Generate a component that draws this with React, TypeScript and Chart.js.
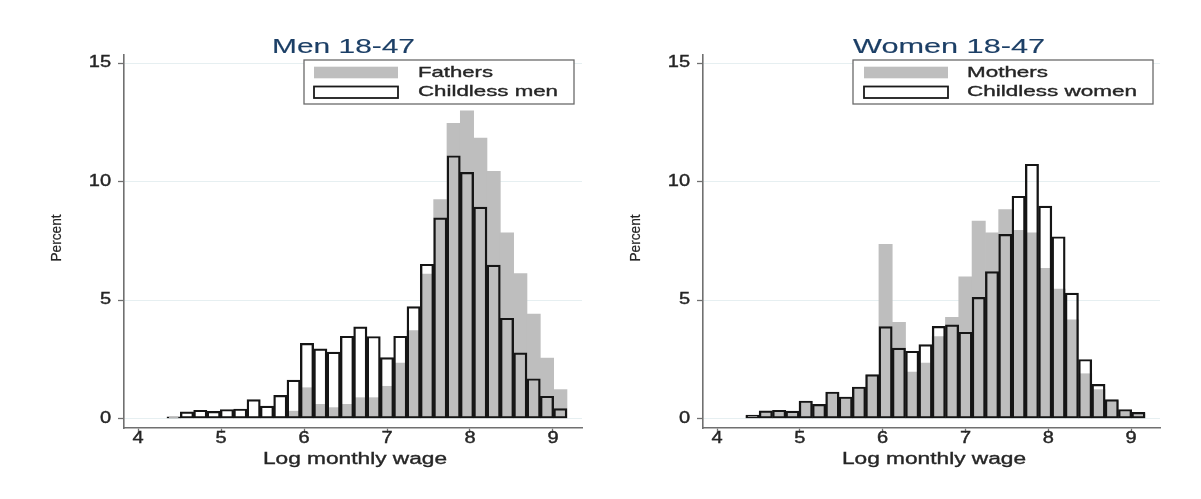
import React, { useEffect, useRef } from "react";
import { Chart, registerables } from "chart.js";

Chart.register(...registerables);

// ---- data ----
const binCenters = [
  4.4284, 4.5891, 4.7498, 4.9105, 5.0712, 5.2319, 5.3926, 5.5533, 5.714, 5.8747,
  6.0354, 6.1961, 6.3568, 6.5175, 6.6782, 6.8389, 6.9996, 7.1603, 7.321, 7.4817,
  7.6424, 7.8031, 7.9638, 8.1245, 8.2852, 8.4459, 8.6066, 8.7673, 8.928, 9.0887,
];
const fathers = [
  0.02, 0.03, 0.03, 0.03, 0.04, 0.04, 0.05, 0.05, 0.08, 0.31,
  1.3, 0.6, 0.46, 0.6, 0.88, 0.88, 1.36, 2.34, 3.71, 6.09,
  9.24, 12.46, 12.98, 11.83, 10.43, 7.84, 6.12, 4.41, 2.55, 1.22,
];
const childlessMen = [
  0.07, 0.28, 0.35, 0.3, 0.38, 0.4, 0.8, 0.52, 0.98, 1.62,
  3.17, 2.94, 2.8, 3.47, 3.87, 3.46, 2.57, 3.47, 4.72, 6.51,
  8.47, 11.09, 10.39, 8.92, 6.47, 4.23, 2.77, 1.68, 0.94, 0.42,
];
const mothers = [
  0.12, 0.28, 0.33, 0.3, 0.72, 0.6, 1.1, 0.9, 1.3, 1.83,
  7.35, 4.06, 1.96, 2.34, 3.46, 4.27, 5.98, 8.33, 7.84, 8.82,
  7.94, 7.84, 6.34, 5.46, 4.16, 1.89, 1.22, 0.75, 0.3, 0.2,
];
const childlessWomen = [
  0.14, 0.32, 0.35, 0.31, 0.74, 0.6, 1.12, 0.91, 1.33, 1.85,
  3.88, 2.97, 2.84, 3.12, 3.89, 3.95, 3.64, 5.11, 6.2, 7.77,
  9.38, 10.73, 8.96, 7.67, 5.29, 2.49, 1.44, 0.8, 0.38, 0.26,
];
const xTicks = [4, 5, 6, 7, 8, 9];
const yTicks = [0, 5, 10, 15];
const xTitle = "Log monthly wage";
const yTitle = "Percent";
const titles = ["Men 18-47", "Women 18-47"];
const parentLabels = ["Fathers", "Mothers"];
const childlessLabels = ["Childless men", "Childless women"];

// ---- style / layout ----
const H = 499;
const FONT = '"Liberation Sans", Arial, Helvetica, sans-serif';
const GREY = "#bebebe";
const AXIS = "#707070";
const TEXT = "#262626";
const TITLE = "#1c3f66";

type TextSpec = {
  text: string;
  x: number;
  y: number;
  size: number;
  color: string;
  align: CanvasTextAlign;
  baseline?: CanvasTextBaseline;
  width?: number;
  sx?: number;
  rotate?: number;
  heavy?: number;
};

function drawText(ctx: CanvasRenderingContext2D, t: TextSpec) {
  ctx.save();
  ctx.font = `normal ${t.size}px ${FONT}`;
  ctx.fillStyle = t.color;
  ctx.strokeStyle = t.color;
  ctx.textAlign = t.align;
  ctx.textBaseline = t.baseline || "alphabetic";
  const w = ctx.measureText(t.text).width;
  const sx = t.width ? t.width / w : t.sx || 1;
  ctx.translate(t.x, t.y);
  if (t.rotate) ctx.rotate(t.rotate);
  ctx.scale(sx, 1);
  ctx.fillText(t.text, 0, 0);
  if (t.heavy) {
    ctx.lineWidth = t.heavy;
    ctx.strokeText(t.text, 0, 0);
  }
  ctx.restore();
}

type Panel = {
  canvasLeft: number;
  canvasWidth: number;
  area: { left: number; right: number; top: number; bottom: number };
  title: string;
  titleLeft: number;
  titleWidth: number;
  parentLabel: string;
  childlessLabel: string;
  parent: number[];
  childless: number[];
  legend: { left: number; right: number; top: number; bottom: number; swL: number; swR: number; textL: number; w1: number; w2: number };
  xTitleCenter: number;
  yTitleX: number;
};

const panels: Panel[] = [
  {
    canvasLeft: 0,
    canvasWidth: 600,
    area: { left: 124, right: 582, top: 55, bottom: 428 },
    title: titles[0],
    titleLeft: 272,
    titleWidth: 143,
    parentLabel: parentLabels[0],
    childlessLabel: childlessLabels[0],
    parent: fathers,
    childless: childlessMen,
    legend: { left: 304, right: 574, top: 60, bottom: 104, swL: 314, swR: 398, textL: 418, w1: 75, w2: 140 },
    xTitleCenter: 355,
    yTitleX: 57,
  },
  {
    canvasLeft: 600,
    canvasWidth: 601,
    area: { left: 703, right: 1160, top: 55, bottom: 428 },
    title: titles[1],
    titleLeft: 853,
    titleWidth: 192,
    parentLabel: parentLabels[1],
    childlessLabel: childlessLabels[1],
    parent: mothers,
    childless: childlessWomen,
    legend: { left: 853, right: 1153, top: 60, bottom: 104, swL: 864, swR: 948, textL: 967, w1: 81, w2: 170 },
    xTitleCenter: 934,
    yTitleX: 636,
  },
];

function PanelChart({ p }: { p: Panel }) {
  const ref = useRef<HTMLCanvasElement | null>(null);
  useEffect(() => {
    if (!ref.current) return;
    const off = p.canvasLeft;
    const area = {
      left: p.area.left - off,
      right: p.area.right - off,
      top: p.area.top,
      bottom: p.area.bottom,
    };
    const textPlugin = {
      id: "stataText",
      afterDraw(chart: any) {
        const ctx: CanvasRenderingContext2D = chart.ctx;
        const xs = chart.scales.x;
        const ys = chart.scales.y;
        // title
        drawText(ctx, { text: p.title, x: p.titleLeft - off, y: 52.5, size: 21, color: TITLE, align: "left", width: p.titleWidth, heavy: 0.15 });
        // tick labels
        yTicks.forEach((v) => {
          drawText(ctx, { text: String(v), x: area.left - 13, y: ys.getPixelForValue(v), size: 16, color: TEXT, align: "right", baseline: "middle", sx: 1.25, heavy: 0.4 });
        });
        xTicks.forEach((v) => {
          drawText(ctx, { text: String(v), x: xs.getPixelForValue(v), y: 438.5, size: 16, color: TEXT, align: "center", baseline: "middle", sx: 1.25, heavy: 0.4 });
        });
        // axis titles
        drawText(ctx, { text: xTitle, x: p.xTitleCenter - off, y: 464, size: 16, color: TEXT, align: "center", width: 184, heavy: 0.35 });
        drawText(ctx, { text: yTitle, x: p.yTitleX - off, y: 238, size: 15, color: TEXT, align: "center", baseline: "middle", width: 47, rotate: -Math.PI / 2, heavy: 0.2 });
        // legend
        const L = p.legend;
        ctx.save();
        ctx.fillStyle = "#ffffff";
        ctx.fillRect(L.left - off, L.top, L.right - L.left, L.bottom - L.top);
        ctx.strokeStyle = "#6a6a6a";
        ctx.lineWidth = 1.3;
        ctx.strokeRect(L.left - off, L.top, L.right - L.left, L.bottom - L.top);
        ctx.fillStyle = GREY;
        ctx.fillRect(L.swL - off, 66.7, L.swR - L.swL, 11.6);
        ctx.strokeStyle = "#1a1a1a";
        ctx.lineWidth = 1.8;
        ctx.strokeRect(L.swL - off, 86.5, L.swR - L.swL, 11.5);
        ctx.restore();
        drawText(ctx, { text: p.parentLabel, x: L.textL - off, y: 72.5, size: 14.5, color: TEXT, align: "left", baseline: "middle", width: L.w1, heavy: 0.35 });
        drawText(ctx, { text: p.childlessLabel, x: L.textL - off, y: 92, size: 14.5, color: TEXT, align: "left", baseline: "middle", width: L.w2, heavy: 0.35 });
      },
    };

    const chart = new Chart(ref.current, {
      type: "bar",
      data: {
        datasets: [
          {
            label: p.childlessLabel,
            data: binCenters.map((x, i) => ({ x, y: p.childless[i] })),
            backgroundColor: "rgba(0,0,0,0)",
            borderColor: "#151515",
            borderWidth: { left: 1.7, right: 1.7, top: 1.5, bottom: 1.5 },
            borderSkipped: false,
            grouped: false,
            barPercentage: 1,
            categoryPercentage: 1,
          } as any,
          {
            label: p.parentLabel,
            data: binCenters.map((x, i) => ({ x, y: p.parent[i] })),
            backgroundColor: GREY,
            borderWidth: 0,
            grouped: false,
            barPercentage: 1,
            categoryPercentage: 1,
          } as any,
        ],
      },
      options: {
        responsive: false,
        maintainAspectRatio: false,
        animation: false,
        layout: { padding: { left: 0, top: area.top, right: p.canvasWidth - area.right, bottom: 0 } },
        plugins: {
          legend: { display: false },
          title: { display: false },
          tooltip: { enabled: false },
        },
        scales: {
          x: {
            type: "linear",
            min: 3.83,
            max: 9.35,
            offset: false,
            afterBuildTicks: (s: any) => {
              s.ticks = xTicks.map((v) => ({ value: v }));
            },
            afterFit: (s: any) => {
              s.height = H - area.bottom;
            },
            ticks: { display: false },
            grid: {
              display: true,
              drawOnChartArea: false,
              color: "rgba(0,0,0,0)",
              tickColor: AXIS,
              tickLength: 5,
              tickWidth: 1.3,
              offset: false,
            },
            border: { display: true, color: AXIS, width: 1.6 },
          },
          y: {
            type: "linear",
            min: -0.4,
            max: 15.34,
            afterBuildTicks: (s: any) => {
              s.ticks = yTicks.map((v) => ({ value: v }));
            },
            afterFit: (s: any) => {
              s.width = area.left;
            },
            ticks: { display: false },
            grid: {
              display: true,
              drawOnChartArea: true,
              color: "#e6eff1",
              lineWidth: 1,
              tickColor: AXIS,
              tickLength: 6,
              tickWidth: 1.3,
            },
            border: { display: true, color: AXIS, width: 1.6 },
          },
        },
      } as any,
      plugins: [textPlugin],
    });
    return () => chart.destroy();
  }, [p]);

  return (
    <canvas
      ref={ref}
      width={p.canvasWidth}
      height={H}
      style={{ position: "absolute", left: p.canvasLeft, top: 0, width: p.canvasWidth, height: H }}
    />
  );
}

export default function App() {
  return (
    <div style={{ position: "absolute", left: 0, top: 0, width: 1201, height: H, background: "#ffffff", overflow: "hidden" }}>
      {panels.map((p, i) => (
        <PanelChart key={i} p={p} />
      ))}
    </div>
  );
}
